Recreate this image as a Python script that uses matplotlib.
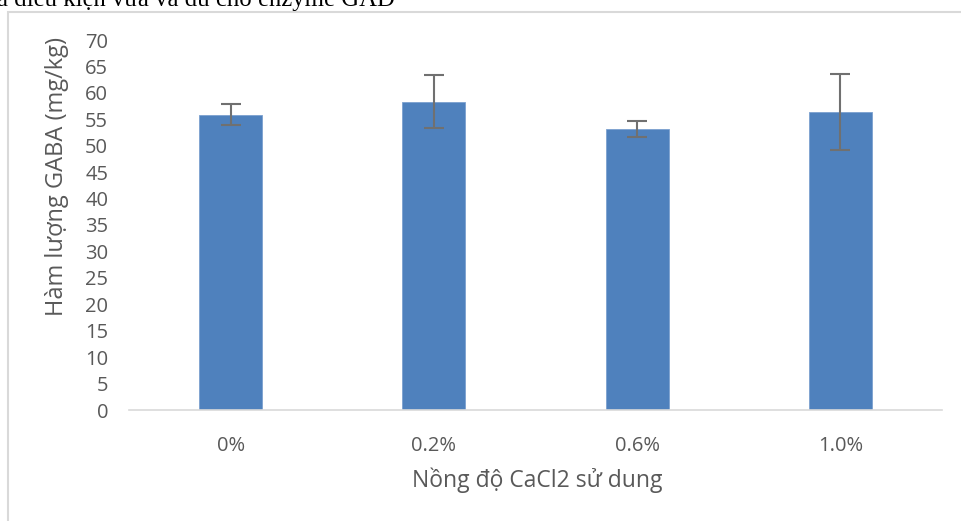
import matplotlib.pyplot as plt
from matplotlib.patches import Rectangle

# GABA content for each CaCl2 concentration (mean and error)
concentrations = ['0%', '0.2%', '0.6%', '1.0%']
gaba_mean = [55.9, 58.3, 53.2, 56.3]
gaba_err = [2.0, 5.0, 1.5, 7.2]
y_ticks = list(range(0, 75, 5))

plt.rcParams['font.family'] = ['Open Sans', 'DejaVu Sans']
text_gray = '#595959'

W, H = 962, 521
fig = plt.figure(figsize=(W / 100, H / 100), dpi=100)
ax = fig.add_axes([129 / W, 1 - 410 / H, 813 / W, 370 / H])

x = list(range(len(concentrations)))
ax.bar(x, gaba_mean, width=0.31, color='#4f81bd', edgecolor='#7ba0cf',
       linewidth=0.6, zorder=2)
ax.errorbar(x, gaba_mean, yerr=gaba_err, fmt='none', ecolor='#707070',
            elinewidth=1.5, capsize=7, capthick=1.5, zorder=3)

ax.set_xlim(-0.5, len(concentrations) - 0.5)
ax.set_ylim(0, 70)
ax.set_yticks(y_ticks)
ax.set_xticks(x)
ax.set_xticklabels(concentrations)
ax.tick_params(axis='both', length=0, labelsize=14.5, labelcolor=text_gray)
ax.tick_params(axis='x', pad=18.5)
ax.tick_params(axis='y', pad=15)

for side in ['top', 'right', 'left']:
    ax.spines[side].set_visible(False)
ax.spines['bottom'].set_color('#d9d9d9')
ax.spines['bottom'].set_linewidth(1.2)

ax.set_ylabel('Hàm lượng GABA (mg/kg)', fontsize=17, color=text_gray,
              va='center')
ax.yaxis.set_label_coords(-0.0886, 0.63)
ax.set_xlabel('Nồng độ CaCl2 sử dung', fontsize=16.5, color=text_gray,
              va='center')
ax.xaxis.set_label_coords(0.502, -0.190)

# chart frame
fig.patches.append(Rectangle((8 / W, -0.1), 1.0, 1 - 11.5 / H + 0.1,
                             transform=fig.transFigure, fill=False,
                             edgecolor='#d9d9d9', linewidth=1.5))

# caption line above the chart, cut by the top edge
fig.text(-3 / W, 1 - 6 / H, 'ả điều kiện vừa và đủ cho enzyme GAD',
         family='Liberation Serif', fontsize=17.8, color='black',
         va='baseline', ha='left')

fig.savefig('out.png', dpi=100)
